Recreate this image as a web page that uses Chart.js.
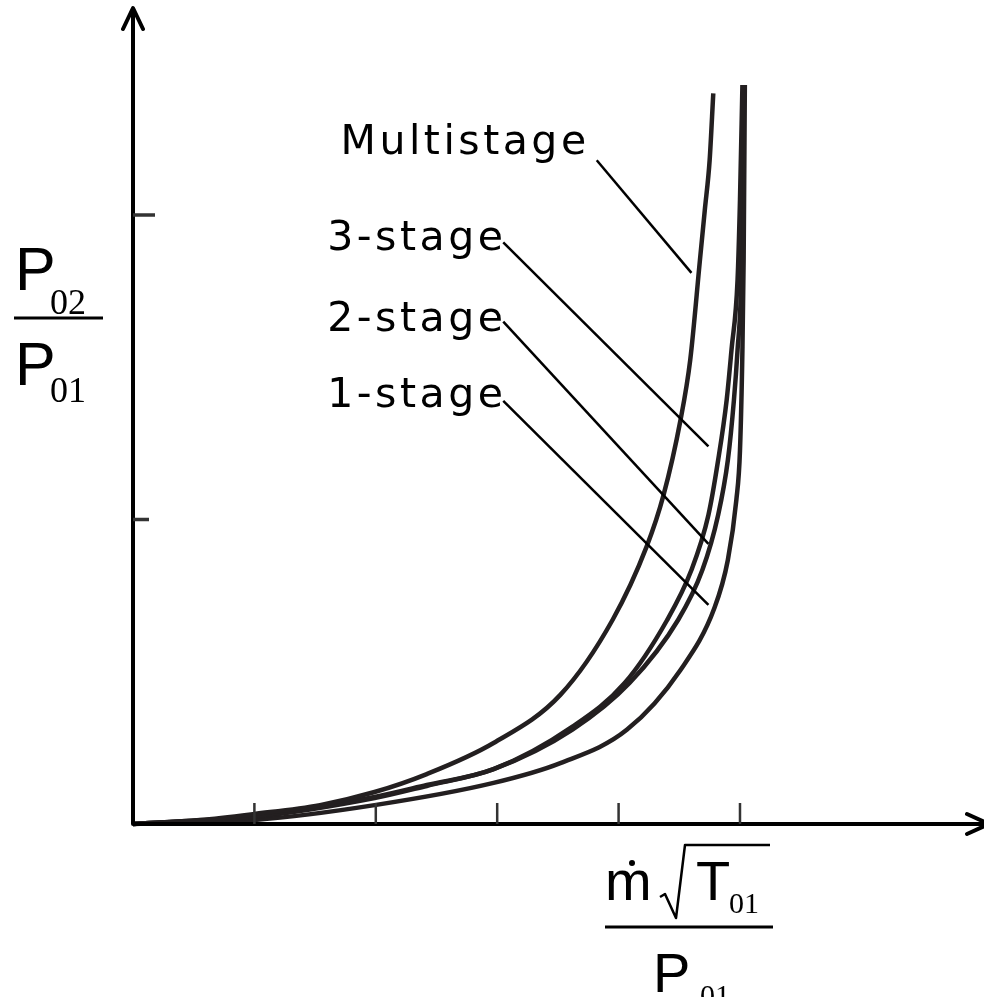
<!DOCTYPE html>
<html>
<head>
<meta charset="utf-8">
<script src="https://cdn.jsdelivr.net/npm/chart.js@4/dist/chart.umd.min.js"></script>
<style>
  html, body { margin: 0; padding: 0; background: #fff; }
  #wrap { width: 984px; height: 997px; position: relative; }
</style>
</head>
<body>
<div id="wrap"><canvas id="c"></canvas></div>
<script>
// axis ticks (no numbers shown, just marks)
const xTicks = [1, 2, 3, 4, 5];
const yTicks = [1, 2];

const seriesNames = ['Multistage', '3-stage', '2-stage', '1-stage'];

const multiX = [0, 0.55, 1.0, 1.54, 1.99, 2.42, 2.97, 3.52, 3.95, 4.23, 4.37, 4.51, 4.59, 4.67, 4.71, 4.75, 4.78];
const multiY = [0, 0.013, 0.033, 0.062, 0.105, 0.164, 0.266, 0.424, 0.67, 0.91, 1.08, 1.327, 1.524, 1.852, 2.016, 2.18, 2.4];

const stage3X = [0, 1.0, 1.99, 2.42, 2.97, 3.62, 4.05, 4.4, 4.6, 4.74, 4.82, 4.89, 4.93, 4.98, 5.0, 5.02];
const stage3Y = [0, 0.026, 0.089, 0.128, 0.18, 0.32, 0.463, 0.67, 0.834, 1.015, 1.195, 1.392, 1.557, 1.787, 2.05, 2.427];

const stage2X = [0, 1.0, 1.99, 2.42, 2.97, 3.62, 4.09, 4.49, 4.69, 4.82, 4.9, 4.95, 4.98, 5.01, 5.02, 5.03];
const stage2Y = [0, 0.023, 0.085, 0.125, 0.18, 0.31, 0.463, 0.67, 0.834, 1.015, 1.195, 1.392, 1.557, 1.787, 2.05, 2.427];

const stage1X = [0, 1.0, 1.99, 2.97, 3.52, 4.07, 4.51, 4.79, 4.9, 4.97, 5.0, 5.02, 5.03, 5.04];
const stage1Y = [0, 0.013, 0.062, 0.135, 0.2, 0.31, 0.506, 0.71, 0.867, 1.064, 1.228, 1.557, 1.852, 2.427];

const xMax = 7.01;
const yMax = 2.68;

function pts(xs, ys) {
  return xs.map((x, i) => ({ x: x, y: ys[i] }));
}

const curveColor = '#231f20';

function curve(name, xs, ys) {
  return {
    label: name,
    data: pts(xs, ys),
    borderColor: curveColor,
    borderWidth: 4.5,
    pointRadius: 0,
    cubicInterpolationMode: 'monotone',
    fill: false,
    clip: false
  };
}

// callouts: text anchor and leader line, in data units
const callouts = [
  { text: seriesNames[0], tx: 1.71, ty: 2.20, from: [3.82, 2.18], to: [4.60, 1.81] },
  { text: seriesNames[1], tx: 1.60, ty: 1.885, from: [3.05, 1.91], to: [4.74, 1.24] },
  { text: seriesNames[2], tx: 1.60, ty: 1.62, from: [3.05, 1.65], to: [4.74, 0.92] },
  { text: seriesNames[3], tx: 1.60, ty: 1.37, from: [3.05, 1.39], to: [4.74, 0.72] }
];

const decorations = {
  id: 'decorations',
  afterDraw(chart) {
    const ctx = chart.ctx;
    const xs = chart.scales.x, ys = chart.scales.y;
    const ox = xs.getPixelForValue(0), oy = ys.getPixelForValue(0);
    const top = chart.chartArea.top, right = chart.chartArea.right;
    ctx.save();
    ctx.strokeStyle = '#000';
    ctx.fillStyle = '#000';
    ctx.lineCap = 'round';
    ctx.lineJoin = 'round';

    // axes with arrows
    ctx.lineWidth = 4;
    ctx.beginPath();
    ctx.moveTo(ox, oy); ctx.lineTo(ox, top + 1);
    ctx.moveTo(ox - 10, top + 21); ctx.lineTo(ox, top); ctx.lineTo(ox + 10, top + 21);
    ctx.moveTo(ox, oy); ctx.lineTo(right + 4, oy);
    ctx.moveTo(right - 17, oy - 10); ctx.lineTo(right + 5, oy); ctx.lineTo(right - 17, oy + 10);
    ctx.stroke();

    // tick marks
    ctx.lineCap = 'butt';
    ctx.lineWidth = 2.5;
    ctx.strokeStyle = '#333';
    ctx.beginPath();
    xTicks.forEach(v => {
      const p = xs.getPixelForValue(v);
      ctx.moveTo(p, oy); ctx.lineTo(p, oy - 21);
    });
    ctx.stroke();
    ctx.lineWidth = 3.5;
    ctx.beginPath();
    yTicks.forEach((v, i) => {
      const p = ys.getPixelForValue(v);
      ctx.moveTo(ox, p); ctx.lineTo(ox + (i === yTicks.length - 1 ? 22 : 16), p);
    });
    ctx.stroke();

    // callouts
    ctx.strokeStyle = '#000';
    ctx.lineWidth = 2.5;
    ctx.font = '41px "DejaVu Sans"';
    ctx.textBaseline = 'alphabetic';
    ctx.textAlign = 'left';
    if ('letterSpacing' in ctx) ctx.letterSpacing = '3.5px';
    callouts.forEach(c => {
      ctx.fillText(c.text, xs.getPixelForValue(c.tx), ys.getPixelForValue(c.ty));
      ctx.beginPath();
      ctx.moveTo(xs.getPixelForValue(c.from[0]), ys.getPixelForValue(c.from[1]));
      ctx.lineTo(xs.getPixelForValue(c.to[0]), ys.getPixelForValue(c.to[1]));
      ctx.stroke();
    });
    if ('letterSpacing' in ctx) ctx.letterSpacing = '0px';

    // y axis title: P02 / P01
    ctx.font = '61px "Liberation Sans"';
    ctx.fillText('P', 15, 290);
    ctx.fillText('P', 15, 385);
    ctx.font = '36px "Liberation Serif"';
    ctx.fillText('02', 50, 314);
    ctx.fillText('01', 50, 402);
    ctx.lineWidth = 3;
    ctx.beginPath();
    ctx.moveTo(14, 318); ctx.lineTo(103, 318);
    ctx.stroke();

    // x axis title: m-dot sqrt(T01) / P01
    ctx.font = '56px "Liberation Sans"';
    ctx.fillText('m', 605, 900);
    ctx.beginPath();
    ctx.arc(632, 863, 3, 0, Math.PI * 2);
    ctx.fill();
    ctx.fillText('T', 696, 900);
    ctx.font = '30px "Liberation Serif"';
    ctx.fillText('01', 729, 913);
    ctx.lineWidth = 2.5;
    ctx.beginPath();
    ctx.moveTo(660, 897); ctx.lineTo(665, 894);
    ctx.lineTo(676, 918); ctx.lineTo(685, 845); ctx.lineTo(770, 845);
    ctx.stroke();
    ctx.lineWidth = 3;
    ctx.beginPath();
    ctx.moveTo(605, 927); ctx.lineTo(773, 927);
    ctx.stroke();
    ctx.font = '56px "Liberation Sans"';
    ctx.fillText('P', 653, 992);
    ctx.font = '30px "Liberation Serif"';
    ctx.fillText('01', 700, 1005);

    ctx.restore();
  }
};

new Chart(document.getElementById('c'), {
  type: 'line',
  data: {
    datasets: [
      curve(seriesNames[0], multiX, multiY),
      curve(seriesNames[1], stage3X, stage3Y),
      curve(seriesNames[2], stage2X, stage2Y),
      curve(seriesNames[3], stage1X, stage1Y)
    ]
  },
  options: {
    responsive: true,
    maintainAspectRatio: false,
    animation: false,
    layout: { padding: { left: 133, right: 0, top: 8, bottom: 173 } },
    plugins: { legend: { display: false }, tooltip: { enabled: false } },
    scales: {
      x: { type: 'linear', min: 0, max: xMax, display: false },
      y: { type: 'linear', min: 0, max: yMax, display: false }
    }
  },
  plugins: [decorations]
});
</script>
</body>
</html>
